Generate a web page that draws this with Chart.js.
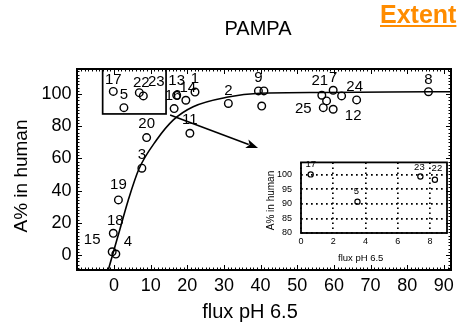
<!DOCTYPE html>
<html><head><meta charset="utf-8">
<script src="https://cdn.jsdelivr.net/npm/chart.js@4/dist/chart.umd.min.js"></script>
<style>
html,body{margin:0;padding:0;background:#fff;}
#wrap{position:relative;width:463px;height:328px;overflow:hidden;background:#fff;}
#main{position:absolute;left:0;top:0;}
#inset{position:absolute;left:262px;top:148px;}
#extent{position:absolute;left:380px;top:2px;font:bold 25px "Liberation Sans",Arial,sans-serif;color:#FF8C00;text-decoration:underline;line-height:25px;white-space:nowrap;}
</style></head><body>
<div id="wrap">
<canvas id="main" width="463" height="328"></canvas>
<canvas id="inset" width="192" height="118"></canvas>
<div id="extent">Extent</div>
</div>
<script>
// ---- data ----
const xTicks = [0, 10, 20, 30, 40, 50, 60, 70, 80, 90];
const yTicks = [0, 20, 40, 60, 80, 100];
const pointLabels = ['17','5','22','23','13','16','14','1','11','20','3','19','18','15','4','2','9','','','21','7','','24','','25','12','8'];
const pointX = [-0.2, 2.7, 6.9, 8.0, 17.1, 16.4, 19.6, 22.1, 20.7, 8.9, 7.6, 1.2, -0.2, -0.5, 0.5, 31.2, 39.4, 40.9, 40.3, 56.7, 59.8, 62.1, 66.2, 58.0, 57.1, 59.8, 85.8];
const pointY = [101.6, 91.5, 100.8, 98.8, 99.2, 90.9, 96.1, 101.2, 75.6, 72.9, 53.9, 34.2, 13.5, 2.0, 0.6, 94.1, 101.9, 101.9, 92.5, 99.2, 102.3, 98.8, 96.3, 95.7, 91.5, 90.5, 101.4];
const curveX = [-1.6, -0.4, 1.4, 3.9, 6.8, 11.6, 16.2, 21.6, 31.1, 39.8, 57.0, 75.0, 92.0];
const curveY = [-9.6, 0.0, 14.3, 34.2, 53.4, 71.4, 83.9, 92.1, 98.1, 100.4, 100.9, 101.2, 101.4];
const insetLabels = ['17', '5', '23', '22'];
const insetX = [0.6, 3.5, 7.4, 8.3];
const insetY = [100.0, 90.7, 99.3, 98.2];
const insetXTicks = [0, 2, 4, 6, 8];
const insetYTicks = [80, 85, 90, 95, 100];

// ---- annotation layout (positions / styles) ----
const labelOffsets = [[0,-12],[0,-13],[2,-10],[13,-14],[0,-14],[-1,-13],[2,-12.6],[0,-13],[0,-13],[0,-14],[0,-13],[0,-15],[2,-12],[-20,-12],[12,-12],[0,-13],[0,-13],[0,0],[0,0],[-2,-14],[0,-12],[0,0],[-2,-13],[0,0],[-20,1],[20,7],[0,-12]];
const insetOffsets = [[0,-10],[-1,-10],[-1,-9],[2,-11]];
const zoomBox = {x0:-3.1, x1:14.2, y0:87.6, y1:115.5};
const arrow = {x0:15.3, y0:87.0, x1:39.3, y1:66.5};

const FONT = '"Liberation Sans", Arial, Helvetica, sans-serif';
Chart.defaults.font.family = FONT;
Chart.defaults.color = '#000';

function drawArrow(ctx, x0, y0, x1, y1) {
  const ang = Math.atan2(y1 - y0, x1 - x0), L = 12, W = 4.5;
  const bx = x1 - L * Math.cos(ang), by = y1 - L * Math.sin(ang);
  ctx.beginPath(); ctx.moveTo(x0, y0); ctx.lineTo(bx + 2*Math.cos(ang), by + 2*Math.sin(ang)); ctx.stroke();
  ctx.beginPath();
  ctx.moveTo(x1, y1);
  ctx.lineTo(bx - W * Math.sin(ang), by + W * Math.cos(ang));
  ctx.lineTo(bx + 3*Math.cos(ang), by + 3*Math.sin(ang));
  ctx.lineTo(bx + W * Math.sin(ang), by - W * Math.cos(ang));
  ctx.closePath(); ctx.fill();
}

const mainDecor = {
  id: 'mainDecor',
  afterDatasetsDraw(chart) {
    const {ctx, chartArea: a, scales: {x, y}} = chart;
    ctx.save();
    ctx.fillStyle = '#000'; ctx.strokeStyle = '#000';
    ctx.font = '15px ' + FONT; ctx.textAlign = 'center'; ctx.textBaseline = 'middle';
    pointLabels.forEach((t, i) => {
      if (!t) return;
      const o = labelOffsets[i];
      ctx.fillText(t, x.getPixelForValue(pointX[i]) + o[0], y.getPixelForValue(pointY[i]) + o[1]);
    });
    ctx.lineWidth = 1.7;
    const bx0 = x.getPixelForValue(zoomBox.x0), bx1 = x.getPixelForValue(zoomBox.x1);
    const by0 = y.getPixelForValue(zoomBox.y0), by1 = Math.max(a.top, y.getPixelForValue(zoomBox.y1));
    ctx.strokeRect(bx0, by1, bx1 - bx0, by0 - by1);
    ctx.lineWidth = 1.6;
    drawArrow(ctx, x.getPixelForValue(arrow.x0), y.getPixelForValue(arrow.y0), x.getPixelForValue(arrow.x1), y.getPixelForValue(arrow.y1));
    ctx.lineWidth = 1;
    ctx.beginPath();
    for (let v = -10; v <= 91; v++) {
      const px = Math.round(x.getPixelForValue(v)) + 0.5;
      const len = (v % 10 === 0) ? 5 : 2.5;
      ctx.moveTo(px, a.bottom); ctx.lineTo(px, a.bottom - len);
      ctx.moveTo(px, a.top); ctx.lineTo(px, a.top + len);
    }
    for (let v = -8; v <= 114; v += 2) {
      const py = Math.round(y.getPixelForValue(v)) + 0.5;
      const len = (v % 20 === 0) ? 5 : 2.5;
      ctx.moveTo(a.left, py); ctx.lineTo(a.left + len, py);
      ctx.moveTo(a.right, py); ctx.lineTo(a.right - len, py);
    }
    ctx.stroke();
    ctx.lineWidth = 2;
    ctx.strokeRect(a.left, a.top, a.right - a.left, a.bottom - a.top);
    ctx.restore();
  },
  afterDraw(chart) {
    const ctx = chart.ctx;
    ctx.save();
    ctx.fillStyle = '#000';
    ctx.textAlign = 'center'; ctx.textBaseline = 'alphabetic';
    ctx.font = '20px ' + FONT;
    ctx.fillText('PAMPA', 258, 35);
    ctx.font = '20px ' + FONT;
    ctx.fillText('flux pH 6.5', 250, 317.5);
    ctx.translate(26.7, 176); ctx.rotate(-Math.PI / 2);
    ctx.font = '19px ' + FONT;
    ctx.fillText('A% in human', 0, 0);
    ctx.restore();
  }
};

new Chart(document.getElementById('main'), {
  type: 'scatter',
  data: {
    datasets: [
      {
        data: curveX.map((v, i) => ({x: v, y: curveY[i]})),
        showLine: true, pointRadius: 0, borderColor: '#000', borderWidth: 1.6,
        cubicInterpolationMode: 'monotone', order: 2
      },
      {
        data: pointX.map((v, i) => ({x: v, y: pointY[i]})),
        pointRadius: 3.8, pointBorderWidth: 1.4, borderColor: '#000',
        backgroundColor: 'rgba(0,0,0,0)', pointBackgroundColor: 'rgba(0,0,0,0)', order: 1
      }
    ]
  },
  options: {
    responsive: false, animation: false, devicePixelRatio: 1,
    layout: {padding: {left: 0, top: 69, right: 12, bottom: 0}},
    plugins: {legend: {display: false}, tooltip: {enabled: false}},
    scales: {
      x: {
        type: 'linear', min: -10.1, max: 91.95,
        grid: {display: false, drawTicks: false}, border: {display: false},
        ticks: {font: {size: 18}, color: '#000', padding: 5.5, maxRotation: 0, autoSkip: false},
        afterBuildTicks: s => { s.ticks = xTicks.map(v => ({value: v})); },
        afterFit: s => { s.height = 58; }
      },
      y: {
        type: 'linear', min: -9.3, max: 115.5,
        grid: {display: false, drawTicks: false}, border: {display: false},
        ticks: {font: {size: 18}, color: '#000', padding: 5.5, autoSkip: false},
        afterBuildTicks: s => { s.ticks = yTicks.map(v => ({value: v})); },
        afterFit: s => { s.width = 77; }
      }
    }
  },
  plugins: [mainDecor]
});

const insetDecor = {
  id: 'insetDecor',
  afterDatasetsDraw(chart) {
    const {ctx, chartArea: a, scales: {x, y}} = chart;
    ctx.save();
    ctx.fillStyle = '#000'; ctx.strokeStyle = '#000';
    ctx.font = '9.5px ' + FONT; ctx.textAlign = 'center'; ctx.textBaseline = 'middle';
    insetLabels.forEach((t, i) => {
      const o = insetOffsets[i];
      ctx.fillText(t, x.getPixelForValue(insetX[i]) + o[0], y.getPixelForValue(insetY[i]) + o[1]);
    });
    ctx.lineWidth = 1.8;
    ctx.strokeRect(a.left, a.top, a.right - a.left, a.bottom - a.top);
    ctx.restore();
  },
  afterDraw(chart) {
    const ctx = chart.ctx;
    ctx.save();
    ctx.fillStyle = '#000';
    ctx.textAlign = 'center'; ctx.textBaseline = 'middle';
    ctx.font = '9.5px ' + FONT;
    ctx.fillText('flux pH 6.5', 98.7, 110.3);
    ctx.translate(9.7, 52.5); ctx.rotate(-Math.PI / 2);
    ctx.font = '10px ' + FONT;
    ctx.fillText('A% in human', 0, 0);
    ctx.restore();
  }
};

new Chart(document.getElementById('inset'), {
  type: 'scatter',
  data: {
    datasets: [{
      data: insetX.map((v, i) => ({x: v, y: insetY[i]})),
      pointRadius: 2.6, pointBorderWidth: 1.2, borderColor: '#000',
      backgroundColor: 'rgba(0,0,0,0)', pointBackgroundColor: 'rgba(0,0,0,0)'
    }]
  },
  options: {
    responsive: false, animation: false, devicePixelRatio: 1,
    layout: {padding: {left: 0, top: 7, right: 7, bottom: 0}},
    plugins: {legend: {display: false}, tooltip: {enabled: false}},
    scales: {
      x: {
        type: 'linear', min: 0, max: 9.05,
        grid: {display: true, color: '#000', lineWidth: 1.7, drawTicks: false},
        border: {display: false, dash: [1.7, 3.3]},
        ticks: {font: {size: 9}, color: '#000', padding: 3, maxRotation: 0, autoSkip: false},
        afterBuildTicks: s => { s.ticks = insetXTicks.map(v => ({value: v})); },
        afterFit: s => { s.height = 33; }
      },
      y: {
        type: 'linear', min: 80, max: 104.1,
        grid: {display: true, color: '#000', lineWidth: 1.7, drawTicks: false},
        border: {display: false, dash: [1.7, 3.3]},
        ticks: {font: {size: 9}, color: '#000', padding: 9, autoSkip: false},
        afterBuildTicks: s => { s.ticks = insetYTicks.map(v => ({value: v})); },
        afterFit: s => { s.width = 39; }
      }
    }
  },
  plugins: [insetDecor]
});
</script>
</body></html>
